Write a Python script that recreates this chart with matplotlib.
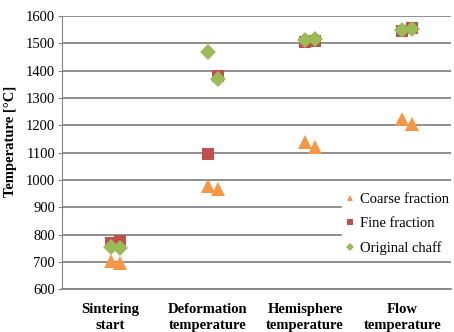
import matplotlib.pyplot as plt
import numpy as np

# Data
categories = ['Sintering\nstart', 'Deformation\ntemperature',
              'Hemisphere\ntemperature', 'Flow\ntemperature']
coarse_a = [705, 978, 1140, 1223]
coarse_b = [695, 966, 1122, 1205]
fine_a = [770, 1095, 1505, 1545]
fine_b = [775, 1380, 1510, 1555]
chaff_a = [755, 1470, 1512, 1549]
chaff_b = [750, 1370, 1515, 1552]

plt.rcParams['font.family'] = ['Liberation Serif', 'DejaVu Serif']

fig = plt.figure(figsize=(4.54, 3.32), dpi=100)
ax = fig.add_axes([62 / 454, 1 - 289.3 / 332, 389 / 454, (289.3 - 16) / 332])

pos = np.arange(len(categories)) + 0.5
off = 0.1

series = [
    (coarse_a, coarse_b, '^', '#F79646', 10, 'Coarse fraction'),
    (fine_a, fine_b, 's', '#C0504D', 8.5, 'Fine fraction'),
    (chaff_a, chaff_b, 'D', '#9BBB59', 8, 'Original chaff'),
]
for a, b, m, c, ms, lab in series:
    ax.plot(pos, a, m, color=c, markersize=ms, markeredgewidth=0, label=lab, zorder=3)
    ax.plot(pos + off, b, m, color=c, markersize=ms, markeredgewidth=0, zorder=3)

ax.set_xlim(0, 4)
ax.set_ylim(600, 1600)
ax.set_yticks(np.arange(600, 1601, 100))
ax.set_xticks(pos)
ax.set_xticklabels(categories, fontweight='bold', fontsize=10.5, linespacing=1.25)
ax.tick_params(axis='x', length=0, pad=10)
ax.tick_params(axis='y', length=3, color='#868686', labelsize=10.5, pad=2)
ax.grid(axis='y', color='#868686', linewidth=1.3)
ax.set_axisbelow(True)
for s in ['top', 'right']:
    ax.spines[s].set_visible(False)
ax.spines['left'].set_color('#868686')
ax.spines['bottom'].set_color('#868686')
ax.spines['bottom'].set_linewidth(1.3)
ax.set_ylabel('Temperature [°C]', fontweight='bold', fontsize=10.5)
ax.yaxis.set_label_coords(-0.115, 0.54)

leg = ax.legend(loc='upper left', bbox_to_anchor=(0.7, 0.395), frameon=True,
                fancybox=False, edgecolor='white', framealpha=1, fontsize=10.5,
                markerscale=0.5, handlelength=0.6, handletextpad=0.35,
                labelspacing=0.75, borderpad=0.3)
leg.set_zorder(5)

fig.savefig('out.png', dpi=100)
